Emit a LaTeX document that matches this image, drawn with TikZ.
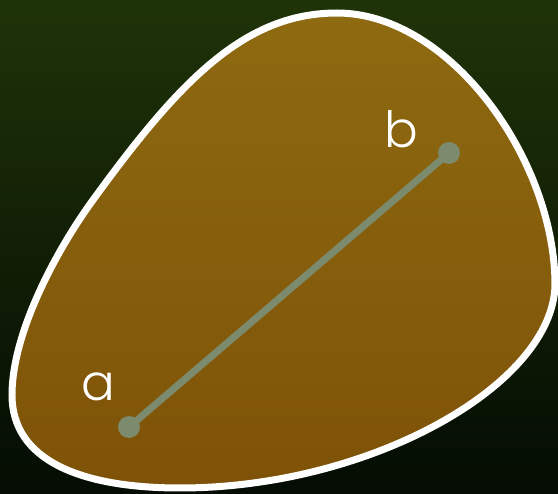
\documentclass[tikz,border=0pt]{standalone}
\usepackage{fontspec}
\newfontfamily\labelfont{Poppins Light}
\usetikzlibrary{positioning}
\definecolor{bgtop}{HTML}{1F3308}
\definecolor{bgbot}{HTML}{040C03}
\definecolor{blobtop}{HTML}{8E6A10}
\definecolor{blobbot}{HTML}{7E5208}
\definecolor{segcol}{HTML}{7C8B6E}
\tikzset{
  seg/.style={segcol,line width=7pt},
  dot/.style={circle,fill=segcol,inner sep=0pt,minimum size=22pt},
  lbl/.style={white,font=\labelfont\fontsize{50}{50}\selectfont,anchor=base,inner sep=0pt}
}
\begin{document}
\begin{tikzpicture}[x=1pt,y=-1pt]
\shade[top color=bgtop,bottom color=bgbot] (0,0) rectangle (558,494);
\useasboundingbox (0,0) rectangle (558,494);
\shade[top color=blobtop,bottom color=blobbot,draw=white,line width=7pt]
  (337,13) .. controls (450,13) and (555,160) .. (555,285)
  .. controls (553,385) and (370,488) .. (180,488)
  .. controls (80,488) and (12,460) .. (12,395)
  .. controls (12,330) and (60,245) .. (93,200)
  .. controls (180,80) and (245,13) .. cycle;
\node[dot] (a) at (129,427) {};
\node[dot] (b) at (449,153) {};
\draw[seg] (a.center) -- (b.center);
\node[lbl] (la) at (98,401) {a};
\node[lbl] (lb) at (401,148) {b};
\end{tikzpicture}
\end{document}
